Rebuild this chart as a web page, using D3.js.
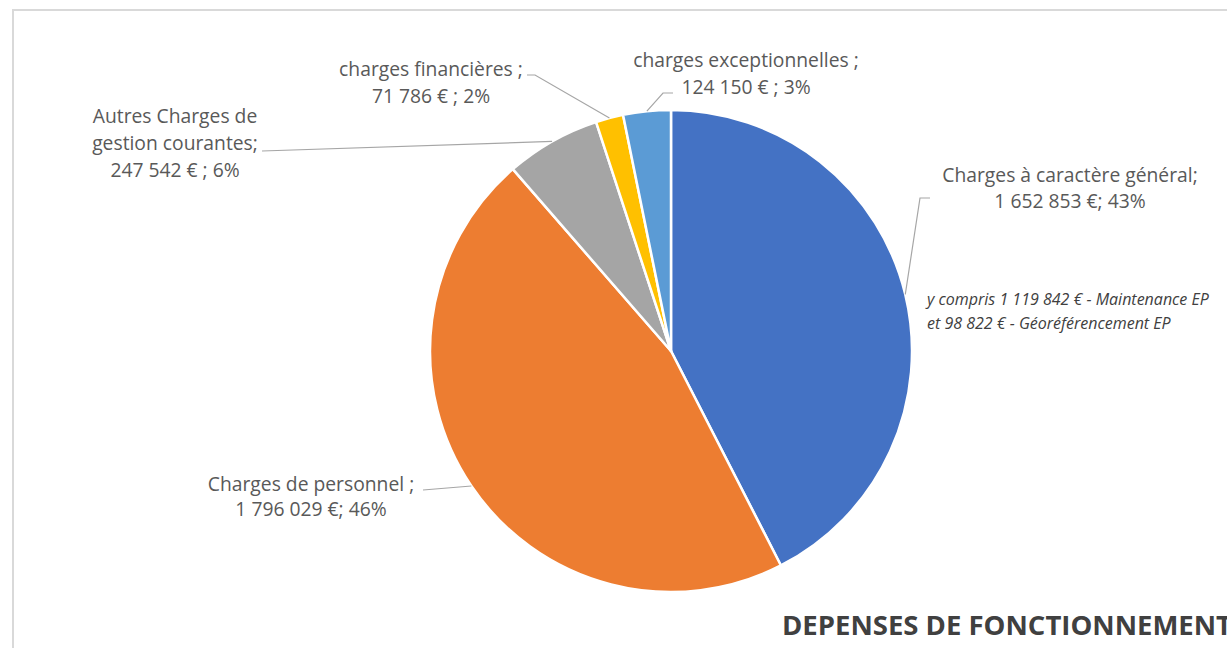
<!DOCTYPE html>
<html>
<head>
<meta charset="utf-8">
<script src="https://cdn.jsdelivr.net/npm/d3@7"></script>
<style>
  html, body { margin: 0; padding: 0; background: #ffffff; overflow: hidden; }
</style>
</head>
<body>
<svg id="chart"></svg>
<script>
// 카테고리 (시계 방향, 12시부터)
var categories = [
	"Charges à caractère général",
	"Charges de personnel",
	"Autres Charges de gestion courantes",
	"charges financières",
	"charges exceptionnelles"
];

// 금액 (€)
var values = [1652853, 1796029, 247542, 71786, 124150];

// 조각 색상
var colors = ["#4472C4", "#ED7D31", "#A5A5A5", "#FFC000", "#5B9BD5"];

// 데이터 레이블 (줄 단위)
var labelLines = [
	["Charges à caractère général;", "1 652 853 €; 43%"],
	["Charges de personnel ;", "1 796 029 €; 46%"],
	["Autres Charges de", "gestion courantes;", "247 542 € ; 6%"],
	["charges financières ;", "71 786 € ; 2%"],
	["charges exceptionnelles ;", "124 150 € ; 3%"]
];

// 주석
var noteLines = [
	"y compris 1 119 842 € - Maintenance EP",
	"et 98 822 € - Géoréférencement EP"
];

var titleText = "DEPENSES DE FONCTIONNEMENT";

var pieChartObj = {

	svg : null,

	layout : {
		width : 1227,
		height : 648,
		cx : 671,
		cy : 351,
		radius : 241,
		lineHeight : 26,
		// 레이블 위치 (중앙 x, 첫 줄 baseline y) 와 지시선 시작점
		labels : [
			{ x : 1070, y : 182, lead : [[930, 198], [920, 198]] },
			{ x : 311, y : 491, lh : 25, lead : [[423, 490]] },
			{ x : 175, y : 123, lh : 27, lead : [[262, 151]] },
			{ x : 431, y : 76, lh : 27, lead : [[527, 75], [535, 75]] },
			{ x : 746, y : 67, lh : 27, lead : [[673, 93], [663, 93]] }
		]
	},

	init : function(id) {
		var that = this;
		that.svg = d3.select(id)
			.attr("width", that.layout.width)
			.attr("height", that.layout.height);
	},

	draw : function() {
		var that = this;
		that.drawFrame();
		that.drawPie();
		that.drawLabels();
		that.drawNote();
		that.drawTitle();
	},

	/**
	 * 차트 영역 테두리
	 */
	drawFrame : function() {
		var that = this;
		that.svg.append("rect")
			.attr("x", 13).attr("y", 10)
			.attr("width", 1240).attr("height", 700)
			.attr("fill", "#ffffff")
			.attr("stroke", "#d9d9d9")
			.attr("stroke-width", 2);
	},

	drawPie : function() {
		var that = this;
		var lay = that.layout;

		that.pie = d3.pie().sort(null).value(function(d) { return d; });
		that.arcs = that.pie(values);

		var arc = d3.arc().innerRadius(0).outerRadius(lay.radius);

		var g = that.svg.append("g")
			.attr("transform", "translate(" + lay.cx + "," + lay.cy + ")");

		g.selectAll("path.slice")
			.data(that.arcs)
			.enter().append("path")
			.attr("class", "slice")
			.attr("d", arc)
			.attr("fill", function(d, i) { return colors[i]; })
			.attr("stroke", "#ffffff")
			.attr("stroke-width", 2.5)
			.attr("stroke-linejoin", "round");
	},

	/**
	 * 조각 바깥 가장자리 중간점
	 */
	edgePoint : function(d) {
		var that = this;
		var a = (d.startAngle + d.endAngle) / 2;
		var r = that.layout.radius;
		return [that.layout.cx + r * Math.sin(a), that.layout.cy - r * Math.cos(a)];
	},

	drawLabels : function() {
		var that = this;
		var line = d3.line();

		that.arcs.forEach(function(d, i) {
			var lab = that.layout.labels[i];
			var pts = lab.lead.slice();
			pts.push(that.edgePoint(d));

			that.svg.append("path")
				.attr("d", line(pts))
				.attr("fill", "none")
				.attr("stroke", "#a6a6a6")
				.attr("stroke-width", 1.2);

			var lh = lab.lh || that.layout.lineHeight;
			var text = that.svg.append("text")
				.attr("x", lab.x).attr("y", lab.y)
				.attr("fill", "#595959")
				.attr("font-size", "19.3px")
				.attr("text-anchor", "middle")
				.attr("font-family", "'Open Sans', sans-serif");

			labelLines[i].forEach(function(s, k) {
				text.append("tspan")
					.attr("x", lab.x)
					.attr("dy", k == 0 ? 0 : lh)
					.text(s);
			});
		});
	},

	drawNote : function() {
		var that = this;
		var text = that.svg.append("text")
			.attr("x", 927).attr("y", 305)
			.attr("fill", "#404040")
			.attr("font-size", "16px")
			.attr("font-style", "italic")
			.attr("font-family", "'Open Sans', sans-serif");
		noteLines.forEach(function(s, k) {
			text.append("tspan").attr("x", 927).attr("dy", k == 0 ? 0 : 24).text(s);
		});
	},

	drawTitle : function() {
		var that = this;
		// 원본에서도 오른쪽 끝이 잘려 있음
		that.svg.append("text")
			.attr("x", 782).attr("y", 635)
			.attr("fill", "#404040")
			.attr("font-size", "27.5px")
			.attr("font-weight", "bold")
			.attr("font-family", "'Open Sans', sans-serif")
			.text(titleText);
	}
};

pieChartObj.init("#chart");
pieChartObj.draw();
</script>
</body>
</html>
